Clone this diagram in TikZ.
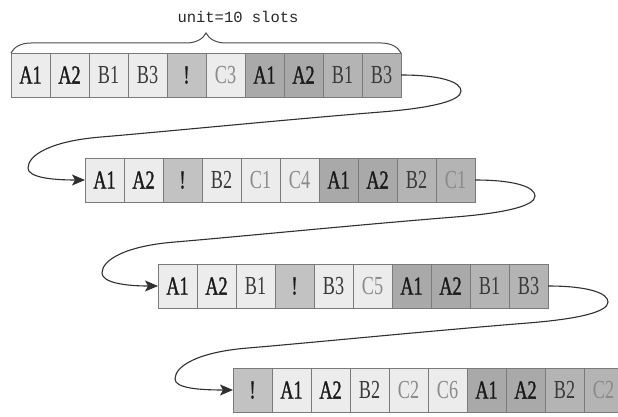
\documentclass[tikz,border=0pt]{standalone}
\usepackage{fontspec}
\setmainfont{Liberation Serif}
\newfontfamily\cellfont[FakeStretch=0.7]{Liberation Serif}
\newfontfamily\cellfontheavy[FakeStretch=0.7,FakeBold=1.2]{Liberation Serif}
\newfontfamily\unitfont{Liberation Mono}
\usetikzlibrary{decorations.pathreplacing,arrows.meta,calc}

\definecolor{cellL}{HTML}{ECECEC}
\definecolor{cellX}{HTML}{C2C2C2}
\definecolor{cellA}{HTML}{A9A9A9}
\definecolor{cellB}{HTML}{B4B4B4}
\definecolor{edge}{HTML}{7A7A7A}
\definecolor{txtB}{HTML}{3A3A3A}
\definecolor{txtC}{HTML}{8A8A8A}
\definecolor{wire}{HTML}{303030}

\tikzset{
  cell/.style={draw=edge, line width=0.9pt, minimum width=39pt, minimum height=44pt,
    inner sep=0pt, outer sep=0pt, anchor=north west,
    font=\cellfont\fontsize{26}{26}\selectfont},
  lt/.style={fill=cellL}, ex/.style={fill=cellX},
  dA/.style={fill=cellA}, dB/.style={fill=cellB},
  ta/.style={text=black!90, font=\cellfontheavy\fontsize{26}{26}\selectfont},
  tb/.style={text=txtB}, tc/.style={text=txtC},
  conn/.style={draw=wire, line width=1.1pt, -{Stealth[length=13pt,width=11pt,inset=3pt]}},
  bracestyle/.style={draw=black!70, line width=1pt, decorate,
    decoration={brace, amplitude=20pt}},
}

% S-shaped wrap-around connector from the end of one row to the start of the next
\newcommand\wrapconn[2]{%
  \draw[conn] (#1.east)
   .. controls ($(#1.east)+(40,0)$) and ($(#1.east)+(60,7)$) .. ($(#1.east)+(60,16)$)
   .. controls ($(#1.east)+(60,26)$) and ($(#1.east)+(30,33)$) .. ($(#1.east)+(-20,37)$)
   .. controls ($(#1.east)+(-120,45)$) and ($(#1.east)+(-240,57)$) .. ($(#1.east)+(-300,62)$)
   .. controls ($(#1.east)+(-350,66)$) and ($(#1.east)+(-373,80)$) .. ($(#1.east)+(-373,93)$)
   .. controls ($(#1.east)+(-373,102)$) and ($(#2.west)+(-35,0)$) .. (#2.west);}

\begin{document}
\begin{tikzpicture}[x=1pt, y=-1pt]
  \useasboundingbox (0,0) rectangle (618,417);
  \clip (0,0) rectangle (618,417);

  % four rows of ten slots each
  \foreach \row/\xo/\yo/\cells in {
    1/11/53/{lt/ta/A1, lt/ta/A2, lt/tb/B1, lt/tb/B3, ex/ta/!, lt/tc/C3, dA/ta/A1, dA/ta/A2, dB/tb/B1, dB/tb/B3},
    2/85/158/{lt/ta/A1, lt/ta/A2, ex/ta/!, lt/tb/B2, lt/tc/C1, lt/tc/C4, dA/ta/A1, dA/ta/A2, dB/tb/B2, dB/tc/C1},
    3/158/264/{lt/ta/A1, lt/ta/A2, lt/tb/B1, ex/ta/!, lt/tb/B3, lt/tc/C5, dA/ta/A1, dA/ta/A2, dB/tb/B1, dB/tb/B3},
    4/233/368/{ex/ta/!, lt/ta/A1, lt/ta/A2, lt/tb/B2, lt/tc/C2, lt/tc/C6, dA/ta/A1, dA/ta/A2, dB/tb/B2, dB/tc/C2}} {
    \foreach \bg/\ink/\lab [count=\i from 0] in \cells {
      \node[cell, \bg, \ink] (r\row c\i) at (\xo+39*\i, \yo) {\lab};
    }
  }

  % brace marking one unit
  \draw[bracestyle] (r1c0.north west) -- (r1c9.north east);
  \node[font=\unitfont\fontsize{15.5}{15.5}\selectfont, text=black!85, anchor=base] (unit) at (238,23) {unit=10 slots};

  % row-to-row wrap connectors
  \wrapconn{r1c9}{r2c0}
  \wrapconn{r2c9}{r3c0}
  \wrapconn{r3c9}{r4c0}
\end{tikzpicture}
\end{document}
